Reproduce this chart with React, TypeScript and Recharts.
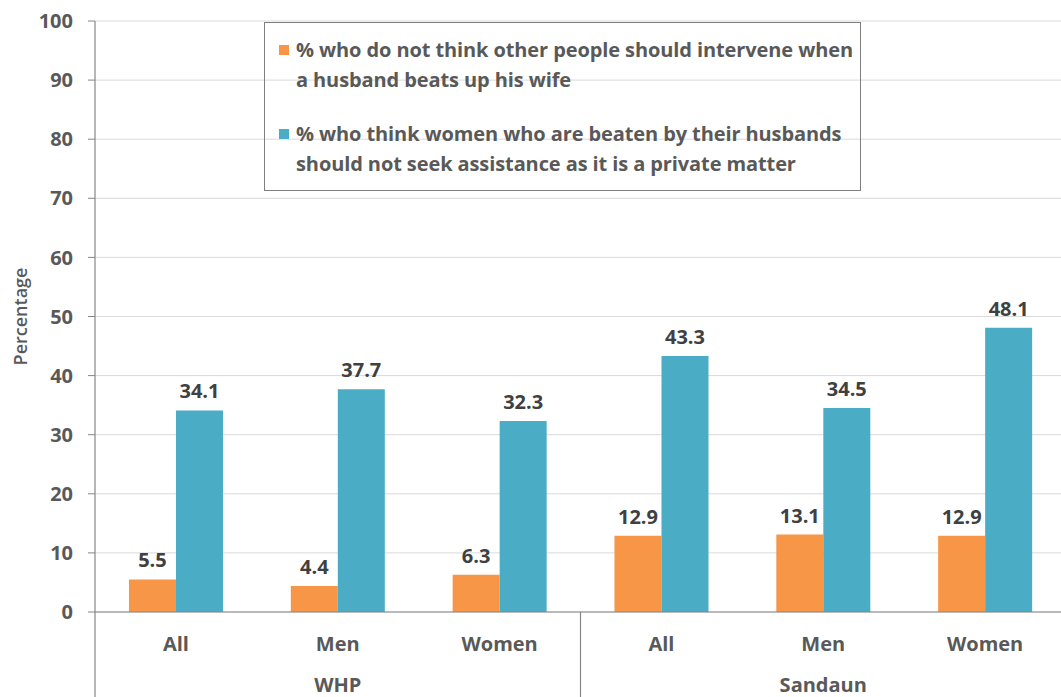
import React from "react";
import { BarChart, Bar, XAxis, YAxis, CartesianGrid, Legend, LabelList } from "recharts";

const subgroups = ["All", "Men", "Women", "All", "Men", "Women"];
const groups = ["WHP", "WHP", "WHP", "Sandaun", "Sandaun", "Sandaun"];
const notIntervene = [5.5, 4.4, 6.3, 12.9, 13.1, 12.9];
const noAssistance = [34.1, 37.7, 32.3, 43.3, 34.5, 48.1];
const yTicks = [0, 10, 20, 30, 40, 50, 60, 70, 80, 90, 100];

const seriesNames = {
  notIntervene: "% who do not think other people should intervene when\na husband beats up his wife",
  noAssistance: "% who think women who are beaten by their husbands\nshould not seek assistance as it is a private matter",
};

const ORANGE = "#F79646";
const BLUE = "#4BACC6";
const FONT = "'Open Sans', sans-serif";
const TEXT = "#595959";
const AXIS = "#868686";

const data = subgroups.map((sub, i) => ({
  sub,
  group: groups[i],
  notIntervene: notIntervene[i],
  noAssistance: noAssistance[i],
}));

function SubTick({ x, y, payload }: any) {
  return (
    <text x={x} y={y + 39} textAnchor="middle" fill={TEXT} fontSize={20} fontWeight={700} fontFamily={FONT}>
      {payload.value}
    </text>
  );
}

function GroupTick({ x, y, payload, index }: any) {
  const off = payload.offset || 0;
  const g = groups[index];
  const first = groups.indexOf(g);
  const last = groups.lastIndexOf(g);
  const mid = Math.floor((first + last) / 2);
  return (
    <g>
      {index === first && <line x1={x - off} x2={x - off} y1={y - 45} y2={y + 45} stroke={AXIS} strokeWidth={1.2} />}
      {index === groups.length - 1 && <line x1={x + off} x2={x + off} y1={y - 45} y2={y + 45} stroke={AXIS} strokeWidth={1.2} />}
      {index === mid && (
        <text x={x} y={y + 35} textAnchor="middle" fill={TEXT} fontSize={20} fontWeight={700} fontFamily={FONT}>
          {g}
        </text>
      )}
    </g>
  );
}

function LegendBox({ payload }: any) {
  return (
    <div
      style={{
        boxSizing: "border-box",
        width: 597,
        height: 169,
        border: "1.5px solid #7f7f7f",
        padding: "12px 0 0 0",
        fontFamily: FONT,
        fontSize: 20,
        fontWeight: 700,
        color: TEXT,
        textAlign: "left",
      }}
    >
      {(payload || []).map((p: any, i: number) => (
        <div key={i} style={{ display: "flex", alignItems: "flex-start", marginBottom: i === 0 ? 24 : 0 }}>
          <div style={{ width: 10, height: 10, background: p.color, marginLeft: 14, marginRight: 7, marginTop: 10, flexShrink: 0 }} />
          <div style={{ whiteSpace: "pre", lineHeight: "30px", letterSpacing: -0.1 }}>{p.value}</div>
        </div>
      ))}
    </div>
  );
}

export default function App() {
  return (
    <div style={{ position: "absolute", left: 0, top: 0, width: 1061, height: 697, overflow: "hidden", background: "#fff" }}>
      <BarChart
        width={1066}
        height={697}
        data={data}
        margin={{ top: 21, right: 0, bottom: 0, left: 0 }}
        barCategoryGap="21%"
        barGap={0}
      >
        <CartesianGrid vertical={false} stroke="#d9d9d9" />
        <XAxis
          dataKey="sub"
          interval={0}
          height={45}
          tickSize={0}
          tickMargin={0}
          axisLine={{ stroke: AXIS, strokeWidth: 1.2 }}
          tick={<SubTick />}
        />
        <XAxis
          xAxisId="group"
          dataKey="group"
          interval={0}
          height={40}
          tickSize={0}
          tickMargin={0}
          axisLine={false}
          tickLine={false}
          tick={<GroupTick />}
        />
        <YAxis
          domain={[0, 100]}
          ticks={yTicks}
          interval={0}
          width={95}
          tickSize={7}
          tickMargin={15}
          axisLine={{ stroke: AXIS, strokeWidth: 1.2 }}
          tickLine={{ stroke: AXIS }}
          tick={{ fill: TEXT, fontSize: 20, fontWeight: 700, fontFamily: FONT }}
          label={({ viewBox }: any) => (
            <text
              x={20}
              y={viewBox.y + viewBox.height / 2}
              transform={`rotate(-90, 20, ${viewBox.y + viewBox.height / 2})`}
              textAnchor="middle"
              dominantBaseline="central"
              fill={TEXT}
              fontSize={18}
              fontWeight={600}
              fontFamily={FONT}
            >
              Percentage
            </text>
          )}
        />
        <Legend
          layout="vertical"
          align="center"
          verticalAlign="middle"
          wrapperStyle={{ left: 264, top: 22, width: 597, height: 169 }}
          content={<LegendBox />}
        />
        <Bar dataKey="notIntervene" name={seriesNames.notIntervene} fill={ORANGE} isAnimationActive={false}>
          <LabelList dataKey="notIntervene" position="top" offset={12} fill="#404040" fontSize={20} fontWeight={700} fontFamily={FONT} />
        </Bar>
        <Bar dataKey="noAssistance" name={seriesNames.noAssistance} fill={BLUE} isAnimationActive={false}>
          <LabelList dataKey="noAssistance" position="top" offset={12} fill="#404040" fontSize={20} fontWeight={700} fontFamily={FONT} />
        </Bar>
      </BarChart>
    </div>
  );
}
